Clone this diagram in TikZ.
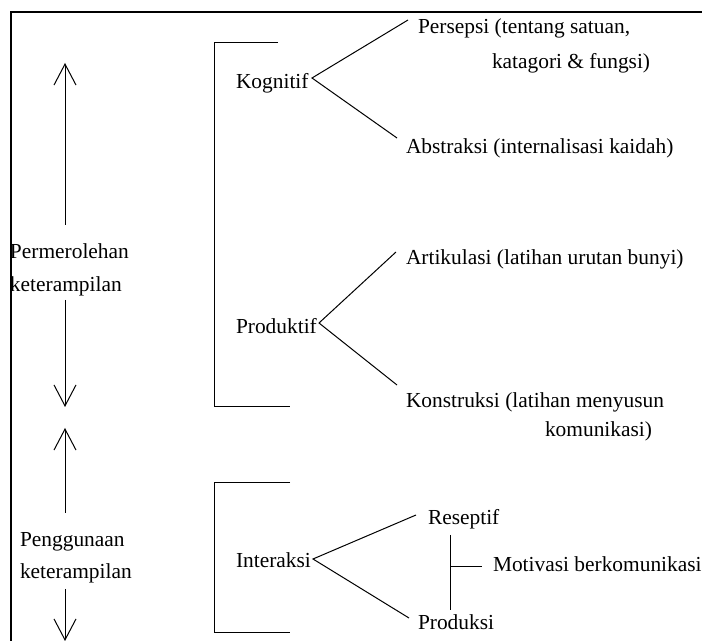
\documentclass[tikz,border=0pt]{standalone}
\usepackage{fontspec}
\setmainfont{Liberation Serif}
\usetikzlibrary{arrows.meta}
\begin{document}
\begin{tikzpicture}[x=0.5pt,y=-0.5pt,
  txt/.style={anchor=base west,inner sep=0pt,outer sep=0pt,font=\fontsize{10.7}{13}\selectfont},
  thin line/.style={draw=black,line width=0.5pt},
  frame line/.style={draw=black,line width=1.1pt},
  barb/.style={thin line,-{Straight Barb[length=10.5pt,width=11pt]}}]
\useasboundingbox (0,0) rectangle (702,641);
\fill[white] (0,0) rectangle (702,641);
% frame
\draw[frame line] (11,645) -- (11,12) -- (706,12);
% left labels
\node[txt] (perm) at (10,259) {Permerolehan};
\node[txt] (ket1) at (10,292) {keterampilan};
\node[txt] (peng) at (20,547) {Penggunaan};
\node[txt] (ket2) at (20,579) {keterampilan};
% arrow coordinates
\coordinate (a1s) at (65,225);
\coordinate (a1t) at (65,63);
\coordinate (a2s) at (65,300);
\coordinate (a2t) at (65,407);
\coordinate (a3s) at (65,513);
\coordinate (a3t) at (65,428);
\coordinate (a4s) at (65,589);
\coordinate (a4t) at (65,641);
\draw[barb] (a1s) -- (a1t);
\draw[barb] (a2s) -- (a2t);
\draw[barb] (a3s) -- (a3t);
\draw[barb] (a4s) -- (a4t);
% brackets
\draw[thin line] (278,43) -- (214,43) -- (214,407) -- (290,407);
\draw[thin line] (290,483) -- (214,483) -- (214,633) -- (290,633);
% middle labels
\node[txt] (kog) at (236,89) {Kognitif};
\node[txt] (prod) at (236,334) {Produktif};
\node[txt] (inter) at (236,568) {Interaksi};
% right labels
\node[txt] (pers) at (418,34) {Persepsi (tentang satuan,};
\node[txt] (pers2) at (492,69) {katagori \& fungsi)};
\node[txt] (abs) at (406,154) {Abstraksi (internalisasi kaidah)};
\node[txt] (art) at (406,265) {Artikulasi (latihan urutan bunyi)};
\node[txt] (kons) at (406,408) {Konstruksi (latihan menyusun};
\node[txt] (kons2) at (545,437) {komunikasi)};
\node[txt] (res) at (428,525) {Reseptif};
\node[txt] (mot) at (493,572) {Motivasi berkomunikasi};
\node[txt] (pdk) at (418,630) {Produksi};
% fan coordinates
\coordinate (kv) at (312,78);
\coordinate (kpe) at (408,20);
\coordinate (kab) at (397,138);
\coordinate (pv) at (319,323);
\coordinate (par) at (396,252);
\coordinate (pko) at (397,385);
\coordinate (iv) at (313,559);
\coordinate (ire) at (416,515);
\coordinate (ipr) at (409,618);
\draw[thin line] (kpe) -- (kv) -- (kab);
\draw[thin line] (par) -- (pv) -- (pko);
\draw[thin line] (ire) -- (iv) -- (ipr);
% motivasi connector
\coordinate (mt) at (450,535);
\coordinate (mb) at (450,610);
\coordinate (mm) at (450,567);
\coordinate (mr) at (482,567);
\draw[thin line] (mt) -- (mb);
\draw[thin line] (mm) -- (mr);
\end{tikzpicture}
\end{document}
